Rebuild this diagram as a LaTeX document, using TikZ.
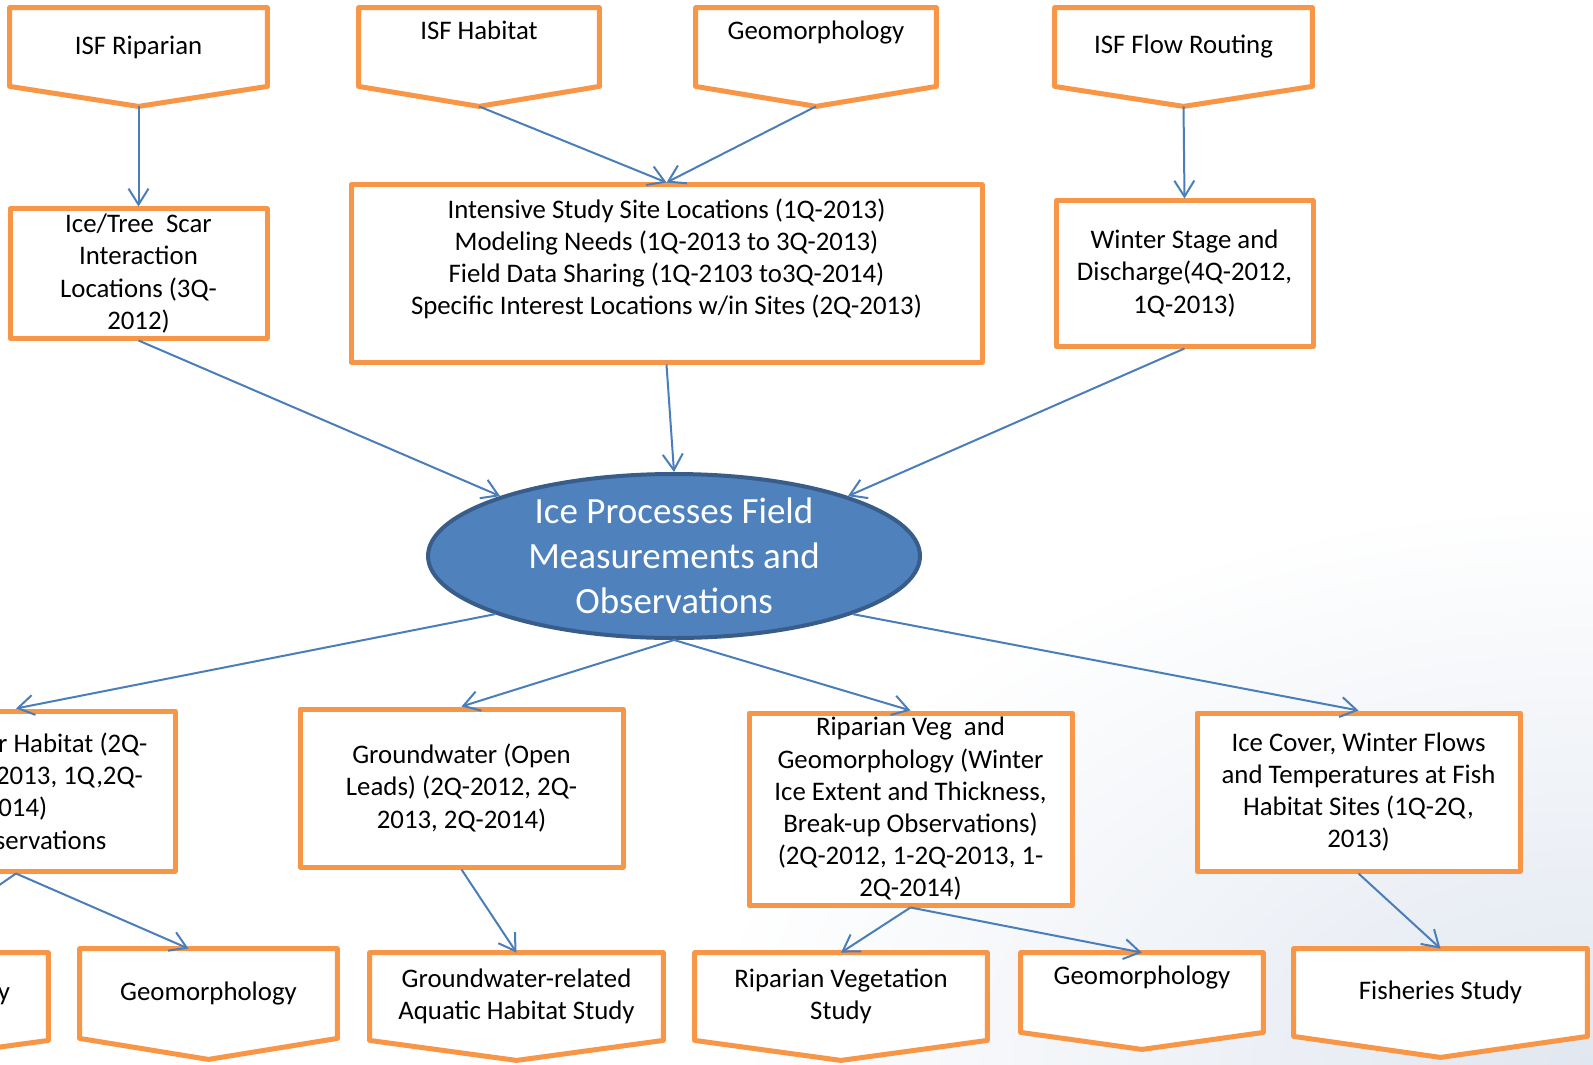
\documentclass[tikz,border=0pt]{standalone}
\usepackage{fontspec}
\setmainfont{Carlito}
\usepackage{tikz}
\usetikzlibrary{arrows.meta,positioning,calc,shapes.geometric,backgrounds}
\definecolor{boxorange}{HTML}{F79646}
\definecolor{linkblue}{HTML}{4A7EBB}
\definecolor{ellfill}{HTML}{4F81BD}
\definecolor{elldraw}{HTML}{385D8A}
\definecolor{bgblue}{HTML}{E1E7F0}

\begin{document}
\begin{tikzpicture}[x=0.5pt,y=-0.5pt,
  boxtext/.style={font=\fontsize{13.4}{16.1}\selectfont, text=black},
  taskbox/.style={boxtext, draw=boxorange, fill=white, line width=2.5pt,
    line join=round, align=center, inner sep=1pt},
  studybox/.style={boxtext, align=center, inner sep=1pt},
  studyline/.style={draw=boxorange, fill=white, line width=2.5pt, line join=round},
  link/.style={draw=linkblue, line width=1pt, -{Straight Barb[length=8pt,width=10pt]}}
]
\useasboundingbox (0,0) rectangle (1593,1064);
\clip (0,0) rectangle (1593,1064);
\begin{scope}[on background layer]
\fill[white] (0,0) rectangle (1593,1064);
\shade[inner color=bgblue, outer color=white] (700,500) rectangle (2486,1628);
\end{scope}

% top row
\node[studybox, minimum width=128.5pt, minimum height=39pt]
  (isfrip) at (138.5,47) {ISF Riparian};
\node[studybox, minimum width=120pt, minimum height=39pt, text depth=17pt]
  (isfhab) at (479,47) {ISF Habitat};
\node[studybox, minimum width=120pt, minimum height=39pt, text depth=17pt]
  (geomtop) at (816,47) {Geomorphology};
\node[studybox, minimum width=128.5pt, minimum height=39pt]
  (isfflow) at (1183.5,47) {ISF Flow Routing};

% second row
\node[taskbox, minimum width=128.5pt, minimum height=64.5pt]
  (icescar) at (138.5,273.5) {Ice/Tree\ \ Scar\\Interaction\\Locations (3Q-\\2012)};
\node[taskbox, minimum width=315.5pt, minimum height=88.5pt, text depth=17pt]
  (sites) at (666.5,273.5)
  {Intensive Study Site Locations (1Q-2013)\\Modeling Needs (1Q-2013 to 3Q-2013)\\
   Field Data Sharing (1Q-2103 to3Q-2014)\\Specific Interest Locations w/in Sites (2Q-2013)};
\node[taskbox, minimum width=128.5pt, minimum height=72.5pt]
  (winter) at (1184.5,273.5) {Winter Stage and\\Discharge(4Q-2012,\\1Q-2013)};

% centre
\node[ellipse, minimum width=246pt, minimum height=82pt, fill=ellfill, draw=elldraw,
  line width=2pt, text=white, align=center, inner sep=0pt,
  font=\fontsize{18.5}{22.4}\selectfont]
  (icefield) at (674,556) {Ice Processes Field\\Measurements and\\Observations};

% third row
\node[taskbox, minimum width=159pt, minimum height=80pt]
  (overwinter) at (16,791)
  {\hphantom{Overwinte}r Habitat (2Q-\\\hphantom{2012, 2Q-}2013, 1Q,2Q-\\2014)\\\hphantom{Ice Ob}servations};
\node[taskbox, minimum width=161.5pt, minimum height=79pt]
  (groundwater) at (461.5,788) {Groundwater (Open\\Leads) (2Q-2012, 2Q-\\2013, 2Q-2014)};
\node[taskbox, minimum width=161.5pt, minimum height=96pt, inner ysep=0pt]
  (ripgeo) at (910.5,809)
  {Riparian Veg\ \ and\\Geomorphology (Winter\\Ice Extent and Thickness,\\
   Break-up Observations)\\(2Q-2012, 1-2Q-2013, 1-\\2Q-2014)};
\node[taskbox, minimum width=161.5pt, minimum height=79pt]
  (icecover) at (1358.5,792)
  {Ice Cover, Winter Flows\\and Temperatures at Fish\\Habitat Sites (1Q-2Q,\\2013)};

% bottom row
\node[studybox, minimum width=146.5pt, minimum height=43.5pt,
  text width=108.5pt, align=right] (fishleft) at (-98.5,996.5) {y};
\node[studybox, minimum width=128.5pt, minimum height=44.5pt]
  (geomleft) at (208.5,993.5) {Geomorphology};
\node[studybox, minimum width=146.5pt, minimum height=43.5pt]
  (gwstudy) at (516.5,996.5) {Groundwater-related\\Aquatic Habitat Study};
\node[studybox, minimum width=146pt, minimum height=43.5pt]
  (ripstudy) at (841,996.5) {Riparian Vegetation\\Study};
\node[studybox, minimum width=121pt, minimum height=39.5pt, text depth=17pt]
  (geombot) at (1142,992.5) {Geomorphology};
\node[studybox, minimum width=146.5pt, minimum height=43.5pt]
  (fishstudy) at (1440.5,992.5) {Fisheries Study};

% pentagon outlines behind the study texts
\begin{scope}[on background layer]
\foreach \n/\d in {isfrip/20, isfhab/20, geomtop/20, isfflow/20, fishleft/20,
                   geomleft/21, gwstudy/20, ripstudy/20, geombot/17, fishstudy/21} {
  \coordinate (\n-tip) at ($(\n.south)+(0,\d)$);
  \draw[studyline] (\n.north west) -- (\n.north east) -- (\n.south east)
    -- (\n-tip) -- (\n.south west) -- cycle;
}
\end{scope}

% connectors
\draw[link] (isfrip-tip) -- (icescar.north);
\draw[link] (isfhab-tip) -- (sites.north);
\draw[link] (geomtop-tip) -- (sites.north);
\draw[link] (isfflow-tip) -- (winter.north);
\draw[link] (icescar.south) -- (icefield.161);
\draw[link] (sites.south) -- (icefield.north);
\draw[link] (winter.south) -- (icefield.19);
\draw[link] (icefield.198) -- (overwinter.north);
\draw[link] (icefield.south) -- (groundwater.north);
\draw[link] (icefield.south) -- (ripgeo.north);
\draw[link] (icefield.342) -- (icecover.north);
\draw[link] (overwinter.south) -- (fishleft.north);
\draw[link] (overwinter.south) -- ($(geomleft.north)+(-20,0)$);
\draw[link] (groundwater.south) -- (gwstudy.north);
\draw[link] (ripgeo.south) -- (ripstudy.north);
\draw[link] (ripgeo.south) -- (geombot.north);
\draw[link] (icecover.south) -- (fishstudy.north);
\end{tikzpicture}
\end{document}
